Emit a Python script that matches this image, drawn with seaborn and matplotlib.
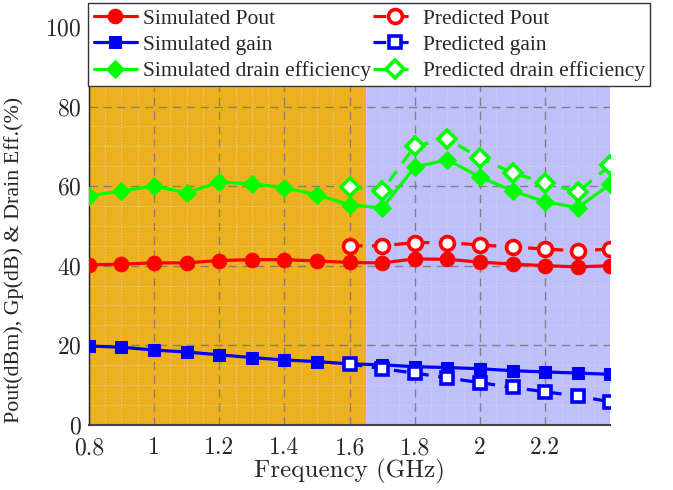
import numpy as np
import pandas as pd
import matplotlib
matplotlib.use("Agg")
import matplotlib.pyplot as plt
import seaborn as sns
from matplotlib.ticker import MultipleLocator, FixedLocator

# ---- data ----
freq_sim = [0.8, 0.9, 1.0, 1.1, 1.2, 1.3, 1.4, 1.5, 1.6, 1.7, 1.8, 1.9, 2.0, 2.1, 2.2, 2.3, 2.4]
sim_pout = [40.2, 40.4, 40.7, 40.7, 41.3, 41.5, 41.5, 41.2, 40.8, 40.7, 41.7, 41.6, 40.9, 40.4, 40.0, 39.7, 40.0]
sim_gain = [19.8, 19.5, 18.8, 18.3, 17.6, 16.9, 16.3, 15.9, 15.3, 15.1, 14.6, 14.4, 14.1, 13.6, 13.3, 13.0, 12.7]
sim_de = [57.5, 58.8, 60.0, 58.3, 61.0, 60.6, 59.6, 57.8, 55.3, 54.5, 64.8, 66.6, 62.3, 58.8, 56.0, 54.6, 60.5]

freq_pred = [1.6, 1.7, 1.8, 1.9, 2.0, 2.1, 2.2, 2.3, 2.4]
pred_pout = [45.0, 45.0, 45.8, 45.8, 45.2, 44.7, 44.2, 43.7, 44.2]
pred_gain = [15.3, 14.1, 13.0, 11.8, 10.6, 9.4, 8.3, 7.2, 5.8]
pred_de = [59.8, 58.8, 70.1, 71.8, 67.1, 63.3, 60.8, 58.5, 65.3]

xticks = [0.8, 1.0, 1.2, 1.4, 1.6, 1.8, 2.0, 2.2]
xtick_labels = ["0.8", "1", "1.2", "1.4", "1.6", "1.8", "2", "2.2"]
yticks = [0, 20, 40, 60, 80, 100]
band_edges = [0.8, 1.65, 2.4]

sim_df = pd.DataFrame({"f": freq_sim, "pout": sim_pout, "gain": sim_gain, "de": sim_de})
pred_df = pd.DataFrame({"f": freq_pred, "pout": pred_pout, "gain": pred_gain, "de": pred_de})

sns.set_style("white")
plt.rcParams["font.family"] = ["cmr10", "DejaVu Serif"]
plt.rcParams["axes.formatter.use_mathtext"] = True
plt.rcParams["mathtext.fontset"] = "cm"
times = ["Liberation Serif", "DejaVu Serif"]

fig = plt.figure(figsize=(6.73, 4.90), dpi=100)
ax = fig.add_axes([0.132, 0.133, 0.775, 0.812])

ax.axvspan(band_edges[0], band_edges[1], color="#EDB120", zorder=0.5, lw=0)
ax.axvspan(band_edges[1], band_edges[2], color="#BFBFFA", zorder=0.5, lw=0)

lw = 2.3
red, blue, green = "#FF0000", "#0000FF", "#00FF00"
dash = (4, 3)

sns.lineplot(data=sim_df, x="f", y="pout", ax=ax, color=red, lw=lw, marker="o",
             markersize=10.5, markeredgecolor=red, label="Simulated Pout", zorder=3)
sns.lineplot(data=sim_df, x="f", y="gain", ax=ax, color=blue, lw=lw, marker="s",
             markersize=8, markeredgecolor=blue, label="Simulated gain", zorder=3)
sns.lineplot(data=sim_df, x="f", y="de", ax=ax, color=green, lw=lw, marker="D",
             markersize=9.5, markeredgecolor=green, label="Simulated drain efficiency", zorder=3)

sns.lineplot(data=pred_df, x="f", y="pout", ax=ax, color=red, lw=lw, marker="o",
             markersize=10, markeredgecolor=red, markerfacecolor="white", markeredgewidth=2.6,
             dashes=dash, label="Predicted Pout", zorder=3)
sns.lineplot(data=pred_df, x="f", y="gain", ax=ax, color=blue, lw=lw, marker="s",
             markersize=8, markeredgecolor=blue, markerfacecolor="white", markeredgewidth=2.6,
             dashes=dash, label="Predicted gain", zorder=3)
sns.lineplot(data=pred_df, x="f", y="de", ax=ax, color=green, lw=lw, marker="D",
             markersize=9.5, markeredgecolor=green, markerfacecolor="white", markeredgewidth=2.6,
             dashes=dash, label="Predicted drain efficiency", zorder=3)

ax.set_xlim(0.8, 2.4)
ax.set_ylim(0, 100)
ax.xaxis.set_major_locator(FixedLocator(xticks))
ax.set_xticklabels(xtick_labels)
ax.set_yticks(yticks)
ax.xaxis.set_minor_locator(MultipleLocator(0.05))
ax.yaxis.set_minor_locator(MultipleLocator(5))
ax.grid(which="major", color="#777777", linestyle=(0, (6, 4)), linewidth=1.0, alpha=0.85)
ax.grid(which="minor", color="#dddddd", linestyle=":", linewidth=0.8, alpha=0.7)
ax.tick_params(axis="both", which="major", direction="in", length=5, labelsize=17, color="#333333")
ax.tick_params(axis="x", which="major", pad=9)
ax.tick_params(axis="y", which="major", pad=5)
ax.tick_params(axis="both", which="minor", length=0)
for s in ["top", "right"]:
    ax.spines[s].set_visible(False)
ax.spines["left"].set_color("#222222")
ax.spines["bottom"].set_color("#444444")
ax.spines["left"].set_linewidth(1.0)
ax.spines["bottom"].set_linewidth(1.5)

ax.set_xlabel("Frequency (GHz)", fontsize=18)
ax.xaxis.set_label_coords(0.5, -0.085)
ax.set_ylabel("Pout(dBm), Gp(dB) & Drain Eff.(%)", fontsize=15.8, family=times)
ax.yaxis.set_label_coords(-0.125, 0.415)

handles, labels = ax.get_legend_handles_labels()
leg = fig.legend(handles, labels, ncol=2,
                 loc="upper left", bbox_to_anchor=(0.131, 0.993),
                 prop={"family": times, "size": 15.5},
                 frameon=True, fancybox=False, edgecolor="#333333", framealpha=1,
                 handlelength=2.0, handletextpad=0.3, columnspacing=0.1,
                 borderpad=0.25, labelspacing=0.28, borderaxespad=0)
leg.get_frame().set_linewidth(1.0)
if ax.get_legend() is not None:
    ax.get_legend().remove()

fig.savefig("out.png", dpi=100)
